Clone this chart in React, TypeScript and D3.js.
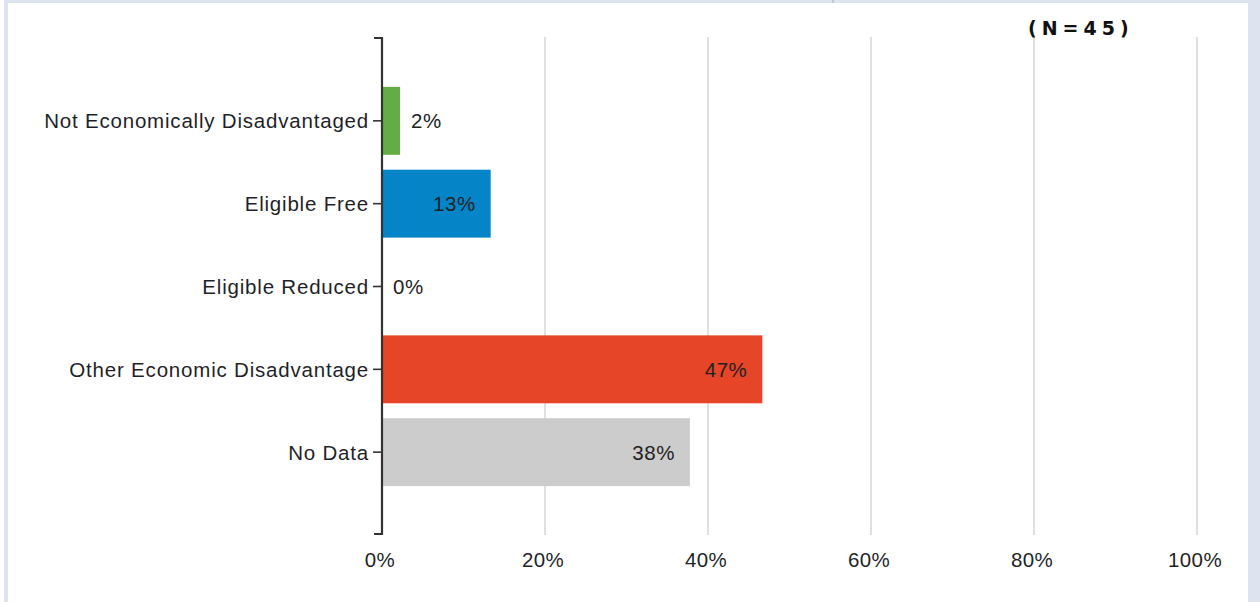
import React from 'react';
import * as d3 from 'd3';

const categories = [
  'Not Economically Disadvantaged',
  'Eligible Free',
  'Eligible Reduced',
  'Other Economic Disadvantage',
  'No Data',
];
const counts = [1, 6, 0, 21, 17];
const total = 45;
const barColors = ['#63ac46', '#0585c8', '#ffffff', '#e64527', '#cccccc'];
const xTicks = [0, 20, 40, 60, 80, 100];

const W = 1260;
const H = 602;
const FONT = '"Liberation Sans", Arial, sans-serif';

export default function App() {
  const x = d3.scaleLinear().domain([0, 100]).range([382, 1197]);
  const y = d3.scalePoint<string>().domain(categories).range([38, 535]).padding(1);
  const barH = y.step() * 0.82;
  const pct = counts.map(c => (c / total) * 100);

  return (
    <div style={{ position: 'absolute', left: 0, top: 0 }}>
      <svg width={W} height={H} style={{ display: 'block', background: '#fff' }}>
        {/* frame */}
        <rect x={4} y={0} width={4} height={H} fill="#dde3ef" />
        <rect x={8} y={0} width={1240} height={3} fill="#dde3ef" />
        <rect x={1248} y={0} width={12} height={H} fill="#dde3ef" />
        <rect x={832} y={0} width={2} height={3} fill="#bfc6d2" />

        {/* grid */}
        {xTicks.slice(1).map(t => (
          <line key={t} x1={x(t)} x2={x(t)} y1={37} y2={535} stroke="#d9d9d9" strokeWidth={1.6} />
        ))}

        {/* bars */}
        {categories.map((c, i) => (
          pct[i] > 0 ? (
            <rect
              key={c}
              x={x(0)}
              y={y(c)! - barH / 2}
              width={x(pct[i]) - x(0)}
              height={barH}
              fill={barColors[i]}
            />
          ) : null
        ))}

        {/* value labels */}
        {categories.map((c, i) => {
          const inside = pct[i] >= 10;
          const v = Math.round(pct[i]);
          return (
            <text
              key={c}
              x={inside ? x(pct[i]) - 15 : x(pct[i]) + 11}
              y={y(c)!}
              dy="0.36em"
              textAnchor={inside ? 'end' : 'start'}
              fontFamily={FONT}
              fontSize={20.5}
              letterSpacing={0.5}
              fill="#222"
            >
              {v}%
            </text>
          );
        })}

        {/* axis */}
        <path d="M374,38H382V534H374" fill="none" stroke="#333" strokeWidth={2.2} />
        {categories.map(c => (
          <g key={c}>
            <line x1={373} x2={381} y1={y(c)} y2={y(c)} stroke="#333" strokeWidth={1.6} />
            <text
              x={369}
              y={y(c)!}
              dy="0.36em"
              textAnchor="end"
              fontFamily={FONT}
              fontSize={20.5}
              letterSpacing={0.8}
              fill="#1f1f2a"
            >
              {c}
            </text>
          </g>
        ))}

        {/* x tick labels */}
        {xTicks.map(t => (
          <text
            key={t}
            x={x(t) - 2}
            y={560}
            dy="0.36em"
            textAnchor="middle"
            fontFamily={FONT}
            fontSize={20.5}
            letterSpacing={0.4}
            fill="#1f1f2a"
          >
            {t}%
          </text>
        ))}

        {/* N label */}
        <text
          x={1028}
          y={28}
          dy="0.36em"
          textAnchor="start"
          fontFamily='"DejaVu Sans", sans-serif'
          fontSize={19}
          fontWeight="bold"
          letterSpacing={5}
          fill="#111"
        >
          (N=45)
        </text>
      </svg>
    </div>
  );
}
